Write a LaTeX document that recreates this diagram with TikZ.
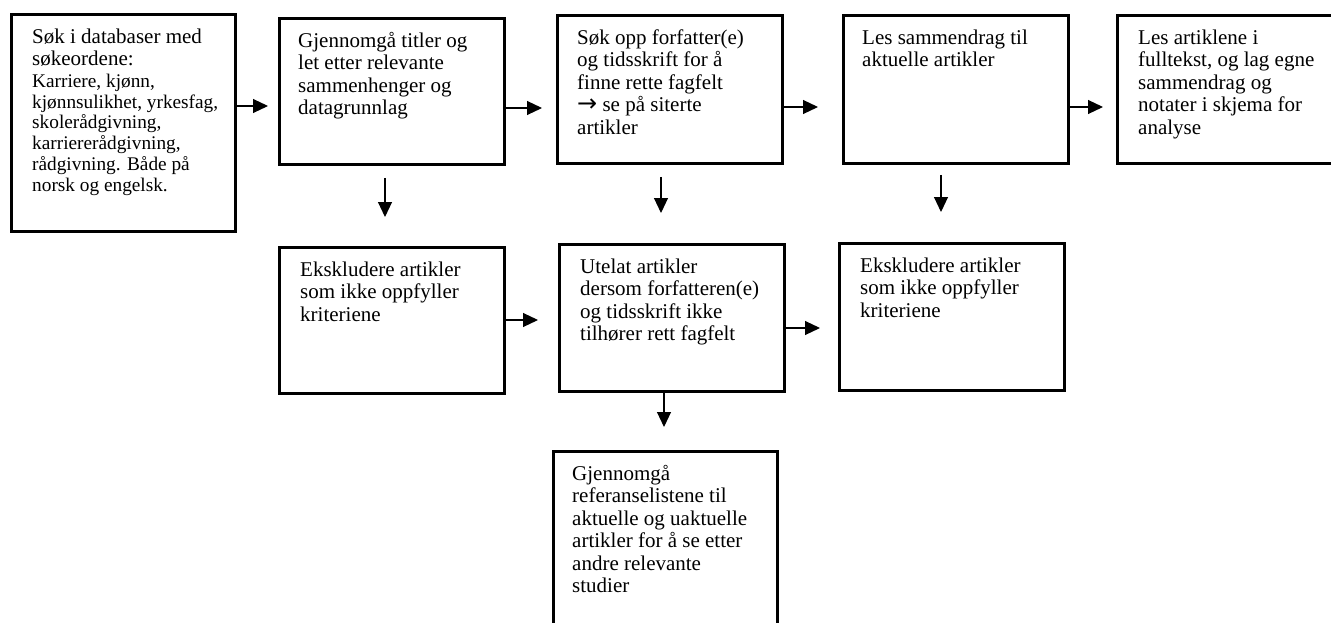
\documentclass[tikz,border=0pt]{standalone}
\usepackage{fontspec}
\setmainfont{Liberation Serif}
\newfontfamily\arrowfont{DejaVu Sans}
\usetikzlibrary{arrows.meta}
\tikzset{
  box/.style={draw, line width=2.7pt, anchor=north west, inner sep=0pt},
  txt/.style={anchor=north west, align=left, inner sep=0pt, font=\fontsize{21}{22.5}\selectfont},
  smalltxt/.style={anchor=north west, align=left, inner sep=0pt, font=\fontsize{19.3}{20.7}\selectfont},
  arr/.style={line width=1.1pt, -{Triangle[length=15pt,width=14pt]}}
}
\newcommand{\fl}{\rule{0pt}{17pt}}
\newcommand{\rarr}{\smash{{\arrowfont\fontsize{24}{22.5}\selectfont →}}}
\begin{document}
\begin{tikzpicture}[x=1pt,y=-1pt]
\useasboundingbox (0,0) rectangle (1331,623);
\clip (0,0) rectangle (1331,623);
% boxes
\node[box, minimum width=224pt, minimum height=217pt] (b1) at (10,13) {};
\node[box, minimum width=225pt, minimum height=146pt] (b2) at (278,17) {};
\node[box, minimum width=225pt, minimum height=148pt] (b3) at (556,14) {};
\node[box, minimum width=225pt, minimum height=148pt] (b4) at (842,14) {};
\node[box, minimum width=240pt, minimum height=148pt] (b5) at (1116,14) {};
\node[box, minimum width=225pt, minimum height=146pt] (b6) at (278,246) {};
\node[box, minimum width=225pt, minimum height=147pt] (b7) at (558,243) {};
\node[box, minimum width=225pt, minimum height=147pt] (b8) at (838,242) {};
\node[box, minimum width=224pt, minimum height=220pt] (b9) at (552,450) {};
% texts
\node[txt] (t1a) at ([shift={(22,13)}]b1.north west) {\fl Søk i databaser med\\søkeordene:};
\node[smalltxt] (t1b) at (32,72.3) {\rule{0pt}{15pt}Karriere, kjønn,\\kjønnsulikhet, yrkesfag,\\skolerådgivning,\\karriererådgivning,\\rådgivning. Både på\\norsk og engelsk.};
\node[txt] (t2) at ([shift={(20,13)}]b2.north west) {\fl Gjennomgå titler og\\let etter relevante\\sammenhenger og\\datagrunnlag};
\node[txt] (t3) at ([shift={(21,13)}]b3.north west) {\fl Søk opp forfatter(e)\\og tidsskrift for å\\finne rette fagfelt\\\rarr{} se på siterte\\artikler};
\node[txt] (t4) at ([shift={(20,13)}]b4.north west) {\fl Les sammendrag til\\aktuelle artikler};
\node[txt] (t5) at ([shift={(22,13)}]b5.north west) {\fl Les artiklene i\\fulltekst, og lag egne\\sammendrag og\\notater i skjema for\\analyse};
\node[txt] (t6) at ([shift={(22,13)}]b6.north west) {\fl Ekskludere artikler\\som ikke oppfyller\\kriteriene};
\node[txt] (t7) at ([shift={(22,13)}]b7.north west) {\fl Utelat artikler\\dersom forfatteren(e)\\og tidsskrift ikke\\tilhører rett fagfelt};
\node[txt] (t8) at ([shift={(22,13)}]b8.north west) {\fl Ekskludere artikler\\som ikke oppfyller\\kriteriene};
\node[txt] (t9) at ([shift={(20,13)}]b9.north west) {\fl Gjennomgå\\referanselistene til\\aktuelle og uaktuelle\\artikler for å se etter\\andre relevante\\studier};
% connector end points
\coordinate (e1) at (268,106);
\coordinate (e2) at (542,108);
\coordinate (e3) at (818,107);
\coordinate (e4) at (1103,107);
\coordinate (e5) at (538,320);
\coordinate (e6) at (820,328);
\coordinate (d1s) at (385,178); \coordinate (d1e) at (385,217);
\coordinate (d2s) at (661,177); \coordinate (d2e) at (661,213);
\coordinate (d3s) at (941,175); \coordinate (d3e) at (941,212);
\coordinate (d4e) at (664,427);
% connectors
\draw[arr] (b1.east |- e1) -- (e1);
\draw[arr] (b2.east |- e2) -- (e2);
\draw[arr] (b3.east |- e3) -- (e3);
\draw[arr] (b4.east |- e4) -- (e4);
\draw[arr] (d1s) -- (d1e);
\draw[arr] (d2s) -- (d2e);
\draw[arr] (d3s) -- (d3e);
\draw[arr] (b6.east |- e5) -- (e5);
\draw[arr] (b7.east |- e6) -- (e6);
\draw[arr] (b7.south -| d4e) -- (d4e);
\end{tikzpicture}
\end{document}
